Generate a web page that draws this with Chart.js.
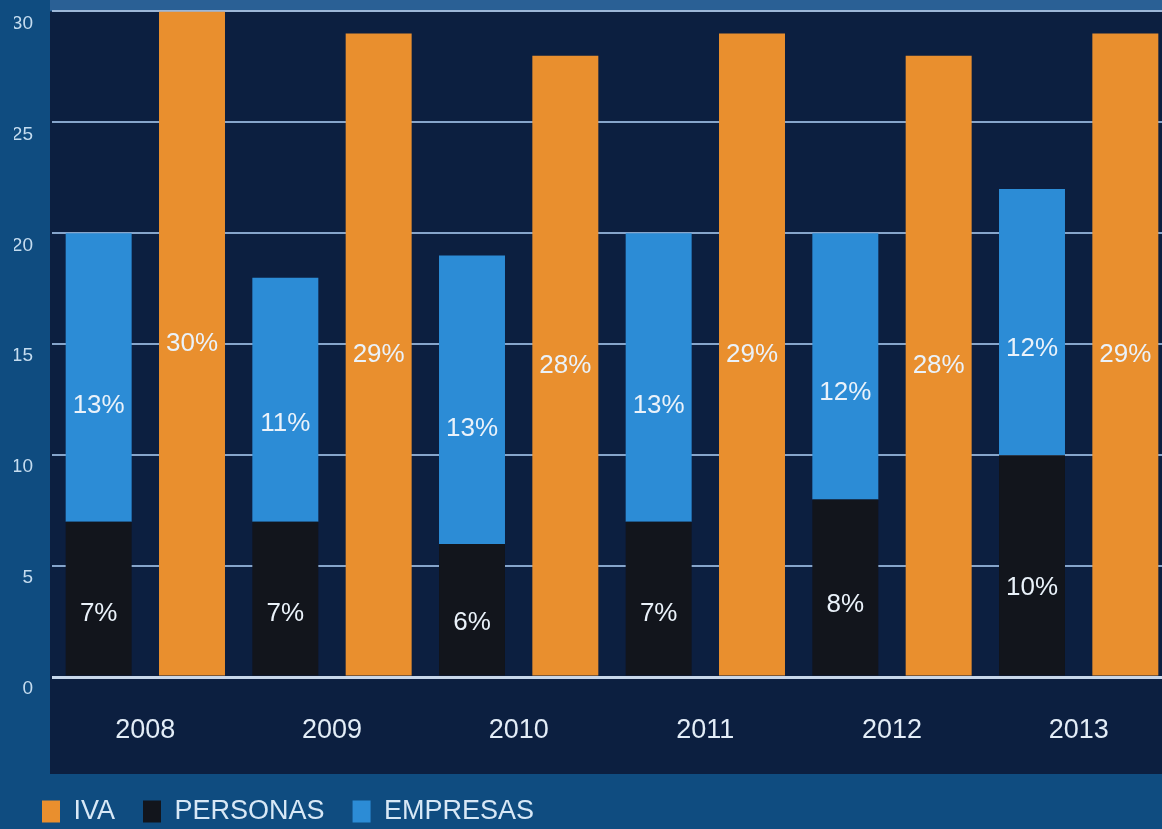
<!DOCTYPE html>
<html>
<head>
<meta charset="utf-8">
<title>IVA, personas y empresas</title>
<script src="https://cdn.jsdelivr.net/npm/chart.js@4.4.1/dist/chart.umd.min.js"></script>
<style>
  html, body { margin: 0; padding: 0; overflow: hidden; background: #0f4c80; }
  #wrap { position: absolute; left: 0; top: 0; width: 1172px; height: 835px; }
</style>
</head>
<body>
<div id="wrap"><canvas id="myChart" width="1172" height="835"></canvas></div>
<script>
const years = ['2008', '2009', '2010', '2011', '2012', '2013'];
const iva = [30, 29, 28, 29, 28, 29];
const personas = [7, 7, 6, 7, 8, 10];
const empresas = [13, 11, 13, 13, 12, 12];
const yTicks = [0, 5, 10, 15, 20, 25, 30];

const FONT = "'Liberation Sans', Arial, sans-serif";
const legendOrder = ['IVA', 'PERSONAS', 'EMPRESAS'];

// fondo: banda exterior azul, franja superior y zona oscura del gráfico
const fondo = {
  id: 'fondo',
  beforeDraw(chart) {
    const { ctx, chartArea, scales } = chart;
    ctx.save();
    ctx.fillStyle = '#0f4c80';
    ctx.fillRect(0, 0, chart.width, chart.height);
    ctx.fillStyle = '#2a6095';
    ctx.fillRect(chartArea.left - 2, 0, chart.width, chartArea.top);
    ctx.fillStyle = '#0c1f40';
    ctx.fillRect(chartArea.left - 2, chartArea.top, chart.width, scales.x.bottom + 4 - chartArea.top);
    ctx.restore();
  }
};

// porcentajes dentro de cada barra
const etiquetas = {
  id: 'etiquetas',
  afterDatasetsDraw(chart) {
    const { ctx } = chart;
    ctx.save();
    ctx.font = '26px ' + FONT;
    ctx.fillStyle = '#eaf2fa';
    ctx.textAlign = 'center';
    ctx.textBaseline = 'middle';
    chart.data.datasets.forEach((ds, i) => {
      const meta = chart.getDatasetMeta(i);
      const f = ds.label === 'IVA' ? 0.5 : 0.4;
      meta.data.forEach((bar, j) => {
        const y = bar.base - (bar.base - bar.y) * f;
        ctx.fillText(ds.data[j] + '%', bar.x, y);
      });
    });
    ctx.restore();
  }
};

const data = {
  labels: years,
  datasets: [
    { label: 'PERSONAS', data: personas, backgroundColor: '#12151c', stack: 'a' },
    { label: 'EMPRESAS', data: empresas, backgroundColor: '#2c8cd6', stack: 'a' },
    { label: 'IVA', data: iva, backgroundColor: '#e98f2e', stack: 'b' }
  ]
};

const config = {
  type: 'bar',
  data: data,
  options: {
    responsive: false,
    animation: false,
    layout: { padding: { left: 14, top: 11, right: 0, bottom: 0 } },
    datasets: {
      bar: { categoryPercentage: 1.0, barPercentage: 0.707, borderWidth: 0 }
    },
    scales: {
      x: {
        stacked: true,
        grid: { display: false, drawTicks: false },
        border: { display: false },
        ticks: { color: '#e3edf7', font: { family: FONT, size: 27 }, padding: 37 },
        afterFit(scale) { scale.height = 93; }
      },
      y: {
        stacked: true,
        min: 0,
        max: 30,
        afterBuildTicks(scale) { scale.ticks = yTicks.map(v => ({ value: v })); },
        grid: {
          drawTicks: true,
          tickLength: 19,
          tickColor: 'rgba(0,0,0,0)',
          color: ctx => ctx.tick.value === 0 ? '#c8d7ea' : (ctx.tick.value === 30 ? '#9db7d8' : '#86a5cb'),
          lineWidth: ctx => ctx.tick.value === 0 ? 3 : 2
        },
        border: { display: false },
        ticks: { color: '#c5dcef', font: { family: FONT, size: 19 }, padding: 0, labelOffset: 12 },
        afterFit(scale) { scale.width = 38; }
      }
    },
    plugins: {
      legend: {
        position: 'bottom',
        align: 'start',
        labels: {
          color: '#d8e8f6',
          font: { family: FONT, size: 27 },
          boxWidth: 18,
          boxHeight: 22,
          padding: 28,
          sort: (a, b) => legendOrder.indexOf(a.text) - legendOrder.indexOf(b.text)
        }
      },
      tooltip: { enabled: false }
    }
  },
  plugins: [fondo, etiquetas]
};

new Chart(document.getElementById('myChart').getContext('2d'), config);
</script>
</body>
</html>
